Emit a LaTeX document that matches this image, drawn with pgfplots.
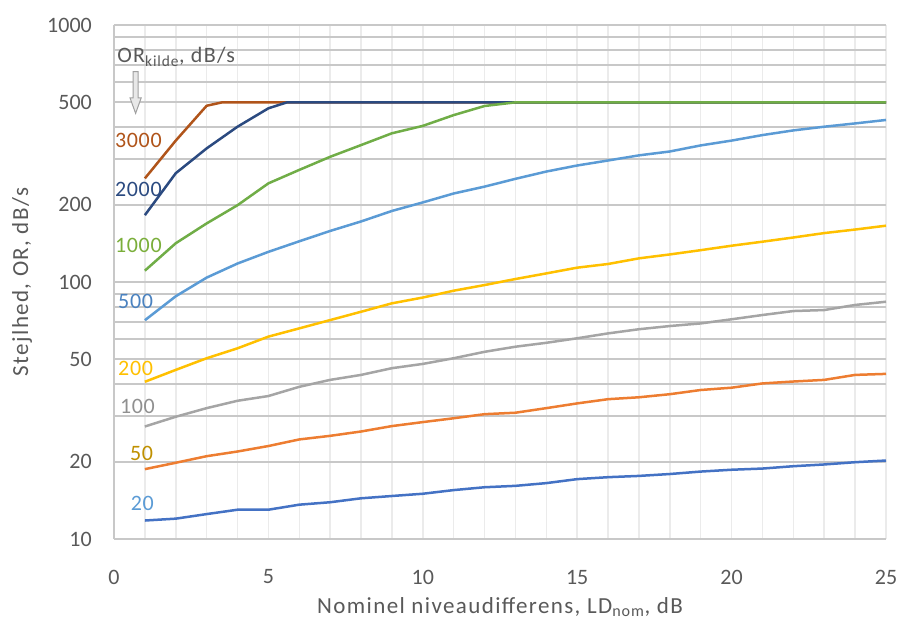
\documentclass[border=0pt]{standalone}
\usepackage{fontspec}
\setmainfont{Carlito}
\newfontfamily\spfont{Carlito}[LetterSpace=6]
\newfontfamily\smfont{Carlito}[LetterSpace=3]
\usepackage{pgfplots}
\pgfplotsset{compat=1.18}
\definecolor{c20}{HTML}{4472C4}
\definecolor{c50}{HTML}{ED7D31}
\definecolor{c100}{HTML}{A5A5A5}
\definecolor{c200}{HTML}{FFC000}
\definecolor{c500}{HTML}{5B9BD5}
\definecolor{c1000}{HTML}{70AD47}
\definecolor{c2000}{HTML}{2B4A80}
\definecolor{c3000}{HTML}{B0541A}
\definecolor{l20}{HTML}{5B9BD5}
\definecolor{l50}{HTML}{BF9000}
\definecolor{l100}{HTML}{909090}
\definecolor{l200}{HTML}{FFC000}
\definecolor{l500}{HTML}{4A82C0}
\definecolor{l1000}{HTML}{7AAE3A}
\definecolor{l2000}{HTML}{2B4A80}
\definecolor{l3000}{HTML}{B0541A}
\definecolor{tickgray}{HTML}{595959}
\definecolor{hgrid}{HTML}{C8C8C8}
\definecolor{vgrid}{HTML}{EBEBEB}
\definecolor{arrowgray}{HTML}{A0A0A0}
\definecolor{arrowfill}{HTML}{E8E8E8}
\begin{document}
\begin{tikzpicture}[font=\fontsize{22bp}{26bp}\selectfont]
\useasboundingbox (-114bp,-85bp) rectangle (786bp,539bp);
\begin{axis}[
  scale only axis, width=772bp, height=514bp,
  ymode=log, xmin=0, xmax=25, ymin=10, ymax=1000,
  xtick={0,5,10,15,20,25}, xticklabels={0,5,10,15,20,25},
  minor xtick={1,2,3,4,6,7,8,9,11,12,13,14,16,17,18,19,21,22,23,24},
  ytick={10,20,50,100,200,500,1000}, yticklabels={10,20,50,100,200,500,1000},
  minor ytick={30,40,60,70,80,90,300,400,600,700,800,900},
  xmajorgrids, xminorgrids, ymajorgrids, yminorgrids,
  major x grid style={vgrid, line width=1.5bp},
  minor x grid style={vgrid, line width=1.5bp},
  major y grid style={hgrid, line width=1.8bp},
  minor y grid style={hgrid, line width=1.8bp},
  axis line style={draw=none},
  major tick length=0pt, minor tick length=0pt,
  tick label style={text=tickgray, font=\fontsize{22bp}{26bp}\selectfont},
  yticklabel style={anchor=east, inner sep=0pt, xshift=-22bp},
  xticklabel style={anchor=center, inner sep=0pt, yshift=-38bp},
  label style={text=tickgray, font=\fontsize{23bp}{27bp}\spfont},
  xlabel={Nominel niveaudifferens, LD\textsubscript{nom}, dB},
  ylabel={Stejlhed, OR, dB/s},
  xlabel style={at={(axis description cs:0.5,0)}, anchor=center, inner sep=0pt, yshift=-68bp},
  ylabel style={at={(axis description cs:0,0.5)}, anchor=center, inner sep=0pt, yshift=92bp},
  no markers,
  every axis plot/.append style={line width=2.5bp, line join=round},
  clip=false,
]
% left axis line
\draw[hgrid, line width=1.8bp] (rel axis cs:0,0) -- (rel axis cs:0,1);

\addplot[c3000] coordinates {(1,253)(2,355)(3,485)(3.5,500)(25,500)};
\addplot[c2000] coordinates {(1,182)(2,265)(3,331)(4,402)(5,474)(5.6,500)(25,500)};
\addplot[c1000] coordinates {(1,110.7)(2,141.5)(3,169)(4,199)(5,242)(6,273)(7,307)(8,341)(9,379)(10,405)(11,446)(12,484)(13,500)(25,500)};
\addplot[c500] coordinates {(1,71)(2,88)(3,104)(4,118)(5,131)(6,144)(7,158)(8,172)(9,189)(10,204)(11,221)(12,235)(13,252)(14,269)(15,284)(16,297)(17,311)(18,322)(19,340)(20,355)(21,373)(22,389)(23,402)(24,414)(25,427)};
\addplot[c200] coordinates {(1,40.9)(2,45.5)(3,50.5)(4,55.2)(5,61.3)(6,66.0)(7,71.1)(8,76.6)(9,82.6)(10,87.0)(11,92.5)(12,97.3)(13,102.7)(14,108)(15,113.7)(16,117.5)(17,123.6)(18,128)(19,133)(20,138.4)(21,143.5)(22,149)(23,155)(24,160)(25,165.6)};
\addplot[c100] coordinates {(1,27.4)(2,29.9)(3,32.3)(4,34.5)(5,36.0)(6,39.1)(7,41.6)(8,43.5)(9,46.2)(10,48.0)(11,50.5)(12,53.5)(13,56.0)(14,58.0)(15,60.4)(16,63.1)(17,65.5)(18,67.4)(19,69.0)(20,71.6)(21,74.4)(22,77.1)(23,77.8)(24,81.4)(25,83.8)};
\addplot[c50] coordinates {(1,18.7)(2,19.8)(3,21.0)(4,21.9)(5,23.0)(6,24.4)(7,25.2)(8,26.2)(9,27.5)(10,28.5)(11,29.5)(12,30.6)(13,31.0)(14,32.3)(15,33.7)(16,35.0)(17,35.6)(18,36.6)(19,38.0)(20,38.8)(21,40.3)(22,41.0)(23,41.6)(24,43.5)(25,43.9)};
\addplot[c20] coordinates {(1,11.8)(2,12.0)(3,12.5)(4,13.0)(5,13.0)(6,13.6)(7,13.9)(8,14.4)(9,14.7)(10,15.0)(11,15.5)(12,15.9)(13,16.1)(14,16.5)(15,17.1)(16,17.4)(17,17.6)(18,17.9)(19,18.3)(20,18.6)(21,18.8)(22,19.2)(23,19.5)(24,19.9)(25,20.2)};

\begin{scope}[font=\fontsize{22bp}{26bp}\smfont]
\node[text=l3000] at (axis cs:0.79,354) {3000};
\node[text=l2000] at (axis cs:0.79,230) {2000};
\node[text=l1000] at (axis cs:0.79,139) {1000};
\node[text=l500] at (axis cs:0.70,84) {500};
\node[text=l200] at (axis cs:0.70,46.3) {200};
\node[text=l100] at (axis cs:0.76,32.8) {100};
\node[text=l50] at (axis cs:0.89,21.6) {50};
\node[text=l20] at (axis cs:0.92,13.8) {20};
\end{scope}
\node[text=tickgray, anchor=west, inner sep=0pt, font=\fontsize{22bp}{26bp}\spfont] at (axis cs:0.1,750) {OR\textsubscript{kilde}, dB/s};
\filldraw[draw=arrowgray, fill=arrowfill, line width=1bp, line join=miter]
  (axis cs:0.62,658) -- (axis cs:0.62,520) -- (axis cs:0.52,520) -- (axis cs:0.70,453)
  -- (axis cs:0.88,520) -- (axis cs:0.78,520) -- (axis cs:0.78,658) -- cycle;
\end{axis}
\end{tikzpicture}
\end{document}
